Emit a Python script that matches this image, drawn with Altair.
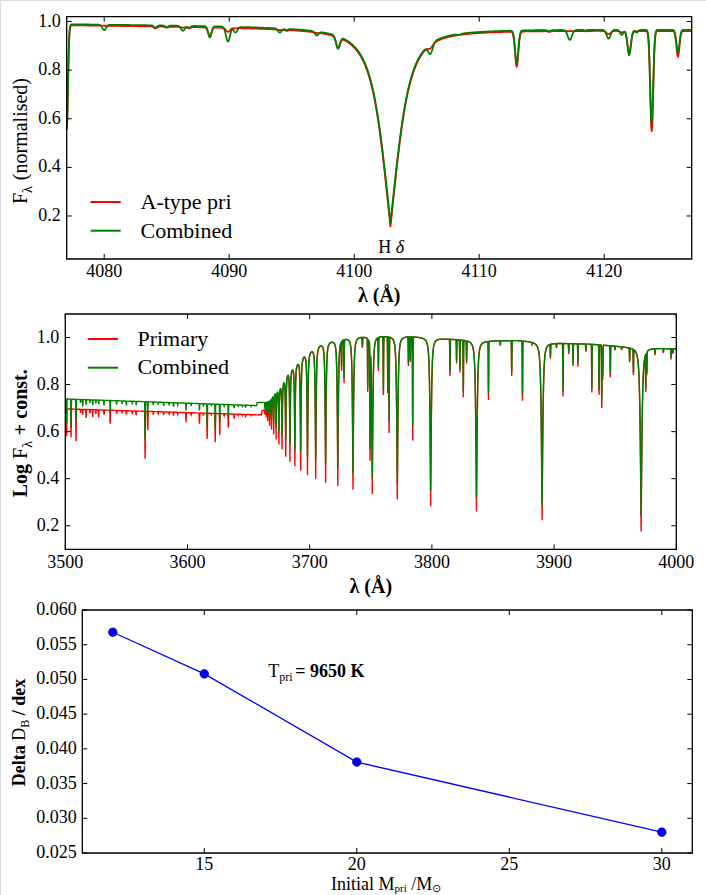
import numpy as np
import pandas as pd
import altair as alt

FONT = "Liberation Serif"
RED = "#ff0000"
GREEN = "#008000"
BLUE = "#0000ff"

# ---------------------------------------------------------------- panel 1: H-delta
HD_XDOM = [4077.0, 4127.0]
HD_YDOM = [0.023, 1.02]
HD_XTICKS = [4080, 4090, 4100, 4110, 4120]
HD_YTICKS = [0.2, 0.4, 0.6, 0.8, 1.0]

# continuum knots (A-type primary / combined)
hd_cont_wl = [4077.0, 4090.0, 4100.0, 4110.0, 4127.0]
hd_cont_pri = [0.986, 0.978, 0.972, 0.966, 0.962]
hd_cont_comb = [0.990, 0.983, 0.976, 0.970, 0.967]

# H delta core: centre and line-centre flux
hdelta_wl = 4102.9
hdelta_min_pri = 0.155
hdelta_min_comb = 0.170

# metal lines: centre, line-centre flux (pri, comb), gaussian sigma
hd_lines_wl = [4077.0, 4080.0, 4084.1, 4085.0, 4086.3, 4086.8, 4088.45, 4089.9,
               4090.5, 4094.05, 4094.6, 4097.0, 4098.7, 4106.1, 4108.4, 4113.0,
               4115.6, 4117.25, 4118.5, 4120.35, 4121.4, 4122.0, 4122.6, 4123.8,
               4125.9]
hd_lines_pri = [0.560, 0.983, 0.972, 0.975, 0.975, 0.972, 0.940, 0.958,
                0.972, 0.965, 0.962, 0.953, 0.893, 0.890, 0.948, 0.815,
                0.958, 0.963, 0.960, 0.948, 0.955, 0.873, 0.960, 0.547,
                0.856]
hd_lines_comb = [0.555, 0.965, 0.975, 0.977, 0.962, 0.975, 0.935, 0.918,
                 0.955, 0.955, 0.965, 0.943, 0.888, 0.867, 0.945, 0.830,
                 0.960, 0.925, 0.963, 0.930, 0.945, 0.862, 0.955, 0.583,
                 0.872]
hd_lines_sigma = [0.10, 0.15, 0.12, 0.12, 0.15, 0.12, 0.13, 0.16,
                  0.15, 0.15, 0.12, 0.15, 0.15, 0.18, 0.15, 0.13,
                  0.12, 0.17, 0.10, 0.16, 0.13, 0.14, 0.12, 0.12,
                  0.12]

# ---------------------------------------------------------------- panel 2: Balmer jump
BJ_XDOM = [3500, 4000]
BJ_YDOM = [0.1, 1.1]
BJ_XTICKS = [3500, 3600, 3700, 3800, 3900, 4000]
BJ_YTICKS = [0.2, 0.4, 0.6, 0.8, 1.0]

# upper envelope of log flux
bj_env_wl = [3500.0, 3656.5, 3657.0, 3660.5, 3661.0, 3663.0, 3666.0, 3667.5,
             3671.6, 3675.1, 3678.4, 3681.7, 3685.3, 3690.7, 3695.3, 3701.6,
             3708.4, 3717.4, 3728.9, 3741.2, 3757.5, 3782.0, 3809.3, 3840.0,
             3870.0, 3900.0, 3930.0, 3960.0, 4000.0]
bj_env_pri = [0.697, 0.672, 0.672, 0.673, 0.690, 0.695, 0.730, 0.740,
              0.775, 0.790, 0.820, 0.855, 0.876, 0.904, 0.932, 0.953,
              0.975, 0.989, 0.999, 1.006, 1.008, 1.006, 0.996, 0.986,
              0.988, 0.977, 0.972, 0.960, 0.952]
bj_env_comb = [0.739, 0.711, 0.724, 0.725, 0.725, 0.727, 0.737, 0.742,
               0.775, 0.790, 0.820, 0.855, 0.876, 0.904, 0.932, 0.953,
               0.975, 0.989, 0.999, 1.006, 1.008, 1.006, 0.996, 0.986,
               0.988, 0.977, 0.972, 0.960, 0.952]

# Balmer series H-epsilon ... H30: centre, line-centre value, width scale
balmer_wl = [3971.20, 3890.16, 3836.47, 3798.98, 3771.70, 3751.22, 3735.43, 3723.00,
             3713.03, 3704.91, 3698.20, 3692.61, 3687.88, 3683.86, 3680.40, 3677.41,
             3674.81, 3672.53, 3670.52, 3668.73, 3667.15, 3665.73, 3664.46, 3663.31]
balmer_min_pri = [0.176, 0.224, 0.261, 0.284, 0.313, 0.337, 0.355, 0.372,
                  0.386, 0.404, 0.421, 0.440, 0.459, 0.479, 0.500, 0.531,
                  0.552, 0.573, 0.594, 0.615, 0.630, 0.650, 0.665, 0.675]
balmer_min_comb = [0.242, 0.287, 0.320, 0.348, 0.380, 0.404, 0.425, 0.450,
                   0.468, 0.485, 0.500, 0.517, 0.531, 0.552, 0.566, 0.587,
                   0.608, 0.620, 0.640, 0.655, 0.665, 0.680, 0.690, 0.700]
balmer_scale = [0.80, 0.72, 0.66, 0.62, 0.58, 0.55, 0.52, 0.48,
                0.45, 0.42, 0.39, 0.36, 0.33, 0.31, 0.29, 0.27,
                0.25, 0.23, 0.21, 0.20, 0.19, 0.18, 0.17, 0.16]

# metal lines: centre, line-centre value (pri, comb)
bj_lines_wl = [3501.1, 3504.7, 3508.8, 3512.5, 3514.3, 3517.0, 3520.2, 3522.4,
               3525.0, 3527.3, 3531.7, 3536.7, 3542.0, 3546.5, 3550.0, 3554.8,
               3558.0, 3565.3, 3567.5, 3572.0, 3576.0, 3580.5, 3585.0, 3588.5,
               3592.0, 3598.8, 3603.0, 3609.8, 3613.0, 3616.1, 3619.5, 3622.7,
               3626.4, 3630.0, 3633.4, 3638.2, 3641.5, 3645.0, 3647.5, 3652.0,
               3726.1, 3728.1, 3743.1, 3747.5, 3749.4, 3756.2, 3760.3, 3763.9,
               3765.0, 3780.8, 3782.4, 3784.3, 3814.8, 3820.2, 3822.9, 3825.7,
               3828.4, 3846.3, 3856.0, 3865.3, 3874.1, 3882.0, 3897.0, 3902.0,
               3907.3, 3912.0, 3915.5, 3919.5, 3926.0, 3930.9, 3936.8, 3939.0,
               3939.8, 3946.0, 3949.8, 3955.3, 3961.8, 3964.9, 3975.0, 3975.9,
               3982.6, 3989.4, 3995.7, 3997.2]
bj_lines_pri = [0.580, 0.576, 0.559, 0.680, 0.672, 0.658, 0.678, 0.662,
                0.675, 0.660, 0.672, 0.634, 0.675, 0.678, 0.672, 0.675,
                0.670, 0.485, 0.606, 0.672, 0.676, 0.670, 0.675, 0.668,
                0.673, 0.640, 0.672, 0.634, 0.668, 0.569, 0.672, 0.555,
                0.587, 0.668, 0.618, 0.655, 0.668, 0.668, 0.662, 0.668,
                0.858, 0.806, 0.956, 0.770, 0.475, 0.858, 0.756, 0.763,
                0.594, 0.879, 0.897, 0.562, 0.837, 0.890, 0.851, 0.746,
                0.890, 0.735, 0.965, 0.837, 0.731, 0.970, 0.910, 0.955,
                0.749, 0.930, 0.879, 0.876, 0.940, 0.766, 0.756, 0.700,
                0.820, 0.831, 0.945, 0.946, 0.895, 0.840, 0.768, 0.840,
                0.925, 0.935, 0.907, 0.930]
bj_lines_comb = [0.637, 0.616, 0.643, 0.722, 0.707, 0.714, 0.722, 0.713,
                 0.720, 0.717, 0.712, 0.686, 0.715, 0.718, 0.712, 0.716,
                 0.713, 0.570, 0.665, 0.713, 0.715, 0.710, 0.712, 0.706,
                 0.713, 0.690, 0.713, 0.690, 0.708, 0.620, 0.712, 0.610,
                 0.640, 0.708, 0.665, 0.700, 0.708, 0.707, 0.702, 0.707,
                 0.876, 0.827, 0.962, 0.790, 0.524, 0.872, 0.777, 0.785,
                 0.644, 0.890, 0.906, 0.623, 0.855, 0.900, 0.865, 0.772,
                 0.900, 0.760, 0.968, 0.855, 0.757, 0.972, 0.920, 0.960,
                 0.770, 0.940, 0.890, 0.890, 0.945, 0.785, 0.775, 0.730,
                 0.835, 0.845, 0.950, 0.950, 0.900, 0.850, 0.785, 0.850,
                 0.930, 0.938, 0.915, 0.935]
BJ_SIGMA = 0.15

# ---------------------------------------------------------------- panel 3: Delta D_B
DB_XDOM = [11, 31]
DB_YDOM = [0.025, 0.060]
DB_XTICKS = [15, 20, 25, 30]
DB_YTICKS = [0.025, 0.030, 0.035, 0.040, 0.045, 0.050, 0.055, 0.060]
mass_pri = [12, 15, 20, 30]
delta_db = [0.0568, 0.0508, 0.0381, 0.0280]


# ---------------------------------------------------------------- line profiles
def hshape(d):
    d = np.abs(d)
    return 0.5 * np.exp(-d / 0.8) + 0.5 / (1.0 + (d / 1.3) ** 2)


def gauss(d, s):
    return np.exp(-0.5 * (d / s) ** 2)


def add_metals(grid, base, centres, mins, sigmas):
    out = base.copy()
    for c, m, s in zip(centres, mins, sigmas):
        depth = max(float(np.interp(c, grid, base)) - m, 0.0)
        out -= depth * gauss(grid - c, s)
    return out


grid1 = np.round(np.arange(HD_XDOM[0], HD_XDOM[1] + 1e-6, 0.02), 3)


def hd_spectrum(cont_vals, hmin, line_mins):
    cont = np.interp(grid1, hd_cont_wl, cont_vals)
    depth = float(np.interp(hdelta_wl, hd_cont_wl, cont_vals)) - hmin
    base = cont - depth * hshape(grid1 - hdelta_wl)
    return add_metals(grid1, base, hd_lines_wl, line_mins, hd_lines_sigma)


grid2 = np.unique(np.round(np.concatenate([
    np.arange(BJ_XDOM[0], BJ_XDOM[1] + 1e-6, 0.1), balmer_wl, bj_lines_wl]), 3))


def bj_spectrum(env_vals, balmer_mins, line_mins):
    env = np.interp(grid2, bj_env_wl, env_vals)
    base = env.copy()
    for c, m, s in zip(balmer_wl, balmer_mins, balmer_scale):
        depth = float(np.interp(c, bj_env_wl, env_vals)) - m
        base -= depth * hshape((grid2 - c) / s)
    return add_metals(grid2, base, bj_lines_wl, line_mins, [BJ_SIGMA] * len(bj_lines_wl))


def frame(wl, flux):
    return pd.DataFrame({"x": np.round(wl, 3), "y": np.round(flux, 4)})


hd_pri = frame(grid1, hd_spectrum(hd_cont_pri, hdelta_min_pri, hd_lines_pri))
hd_comb = frame(grid1, hd_spectrum(hd_cont_comb, hdelta_min_comb, hd_lines_comb))
bj_pri = frame(grid2, bj_spectrum(bj_env_pri, balmer_min_pri, bj_lines_pri))
bj_comb = frame(grid2, bj_spectrum(bj_env_comb, balmer_min_comb, bj_lines_comb))
db = pd.DataFrame({"x": mass_pri, "y": delta_db})

# ---------------------------------------------------------------- page geometry
# each panel: plot rectangle on the page (pixels) and its data window
P1 = dict(x0=66.7, x1=691.7, y0=16.7, y1=259.0, xdom=HD_XDOM, ydom=HD_YDOM,
          xticks=HD_XTICKS, yticks=HD_YTICKS, xfmt="d", yfmt=".1f", xlab_y=272.0, ylab_x=60.7)
P2 = dict(x0=65.3, x1=676.3, y0=314.0, y1=549.3, xdom=BJ_XDOM, ydom=BJ_YDOM,
          xticks=BJ_XTICKS, yticks=BJ_YTICKS, xfmt="d", yfmt=".1f", xlab_y=563.0, ylab_x=59.3)
P3 = dict(x0=82.3, x1=692.3, y0=610.0, y1=853.0, xdom=DB_XDOM, ydom=DB_YDOM,
          xticks=DB_XTICKS, yticks=DB_YTICKS, xfmt="d", yfmt=".3f", xlab_y=864.5, ylab_x=76.7)


def X(p):
    return alt.X("x:Q", axis=None, scale=alt.Scale(
        domain=p["xdom"], range=[p["x0"], p["x1"]], nice=False, zero=False))


def Y(p):
    return alt.Y("y:Q", axis=None, scale=alt.Scale(
        domain=p["ydom"], range=[p["y1"], p["y0"]], nice=False, zero=False))


# ---------------------------------------------------------------- text helpers
REG = {' ': .25, '(': .333, ')': .333, '+': .564, '.': .25, '/': .278, '=': .564,
       'A': .722, 'B': .667, 'C': .667, 'D': .722, 'F': .556, 'H': .722, 'I': .333,
       'K': .722, 'L': .611, 'M': .889, 'P': .556, 'T': .611, 'a': .444, 'b': .5,
       'c': .444, 'd': .5, 'e': .444, 'g': .5, 'i': .278, 'l': .278, 'm': .778,
       'n': .5, 'o': .5, 'p': .5, 'r': .333, 's': .389, 't': .278, 'x': .5, 'y': .5,
       '-': .333, 'λ': .55, 'δ': .5, '⊙': .8, 'Å': .722}
BOLD = {' ': .25, '(': .333, ')': .333, '+': .57, '.': .25, '/': .278, '=': .57,
        'D': .722, 'K': .778, 'L': .667, 'a': .5, 'c': .444, 'd': .556, 'e': .444,
        'g': .5, 'l': .278, 'n': .556, 'o': .5, 's': .389, 't': .333, 'x': .5,
        'λ': .55, 'Å': .722}


def text_width(s, size, bold=False):
    table = BOLD if bold else REG
    return sum(table.get(ch, 0.5) for ch in s) * size


ONE = pd.DataFrame({"k": [0]})


def piece(text, x, y, size, bold=False, italic=False, angle=0,
          align="left", baseline="alphabetic"):
    return alt.Chart(ONE).mark_text(
        text=text, font=FONT, fontSize=size, color="black",
        fontWeight="bold" if bold else "normal",
        fontStyle="italic" if italic else "normal",
        angle=angle, align=align, baseline=baseline,
    ).encode(x=alt.value(x), y=alt.value(y))


def run_h(pieces, x, y):
    out = []
    for text, size, bold, shift in pieces:
        lead = len(text) - len(text.lstrip())
        out.append(piece(text.strip(), x + text_width(text[:lead], size, bold),
                         y + shift, size, bold))
        x += text_width(text, size, bold)
    return out


def run_v(pieces, x, y):
    out = []
    for text, size, bold, shift in pieces:
        lead = len(text) - len(text.lstrip())
        out.append(piece(text.strip(), x + shift,
                         y - text_width(text[:lead], size, bold), size, bold, angle=270))
        y -= text_width(text, size, bold)
    return out


def decorations(p):
    """Frame, inward ticks on all four sides and tick labels of one panel."""
    tx = pd.DataFrame({"x": p["xticks"]})
    ty = pd.DataFrame({"y": p["yticks"]})
    rule = dict(color="black", strokeWidth=1)
    L = 5
    lab = dict(font=FONT, fontSize=18, color="black", baseline="middle")
    return [
        alt.Chart(tx).mark_rule(**rule).encode(x=X(p), y=alt.value(p["y1"]), y2=alt.value(p["y1"] - L)),
        alt.Chart(tx).mark_rule(**rule).encode(x=X(p), y=alt.value(p["y0"]), y2=alt.value(p["y0"] + L)),
        alt.Chart(ty).mark_rule(**rule).encode(y=Y(p), x=alt.value(p["x0"]), x2=alt.value(p["x0"] + L)),
        alt.Chart(ty).mark_rule(**rule).encode(y=Y(p), x=alt.value(p["x1"] - L), x2=alt.value(p["x1"])),
        alt.Chart(tx).mark_text(align="center", **lab).encode(
            x=X(p), y=alt.value(p["xlab_y"]), text=alt.Text("x:Q", format=p["xfmt"])),
        alt.Chart(ty).mark_text(align="right", **lab).encode(
            y=Y(p), x=alt.value(p["ylab_x"]), text=alt.Text("y:Q", format=p["yfmt"])),
        alt.Chart(ONE).mark_rect(fillOpacity=0, stroke="black", strokeWidth=1.3).encode(
            x=alt.value(p["x0"]), x2=alt.value(p["x1"]), y=alt.value(p["y0"]), y2=alt.value(p["y1"])),
    ]


def spec_line(df, color, p, width):
    return alt.Chart(df).mark_line(color=color, strokeWidth=width).encode(x=X(p), y=Y(p))


def legend(entries, x0, x1, xt, size):
    out = []
    for color, label, ly, ty in entries:
        out.append(alt.Chart(ONE).mark_rule(color=color, strokeWidth=2).encode(
            x=alt.value(x0), x2=alt.value(x1), y=alt.value(ly)))
        out.append(piece(label, xt, ty, size))
    return out


# ---------------------------------------------------------------- panel 1
hd_label = pd.DataFrame({"x": [hdelta_wl + 0.1], "y": [0.048]})
panel1 = [
    spec_line(hd_pri, RED, P1, 1.8),
    spec_line(hd_comb, GREEN, P1, 1.8),
    alt.Chart(hd_label).mark_text(text="H", font=FONT, fontSize=18, align="right",
                                  baseline="alphabetic", dx=-0.5, color="black").encode(x=X(P1), y=Y(P1)),
    alt.Chart(hd_label).mark_text(text="δ", font=FONT, fontSize=18, fontStyle="italic",
                                  align="left", baseline="alphabetic", dx=4, color="black").encode(x=X(P1), y=Y(P1)),
    *legend([(RED, "A-type pri", 202.0, 208.6), (GREEN, "Combined", 230.7, 237.6)],
            90.6, 120.7, 140.5, 22),
    *run_v([("F", 20, False, 0), ("λ", 14, False, 5), (" (normalised)", 20, False, 0)],
           26.7, 204.0),
    piece("λ (Å)", (P1["x0"] + P1["x1"]) / 2, 296.0, 20, bold=True, align="center", baseline="middle"),
    *decorations(P1),
]

# ---------------------------------------------------------------- panel 2
panel2 = [
    spec_line(bj_pri, RED, P2, 1.4),
    spec_line(bj_comb, GREEN, P2, 1.4),
    *legend([(RED, "Primary", 339.0, 346.0), (GREEN, "Combined", 367.7, 374.3)],
            87.8, 118.0, 137.4, 22),
    *run_v([("Log ", 20, True, 0), ("F", 20, False, 0), ("λ", 14, False, 5),
            (" + const.", 20, True, 0)], 27.0, 497.3),
    piece("λ (Å)", (P2["x0"] + P2["x1"]) / 2, 586.7, 20, bold=True, align="center", baseline="middle"),
    *decorations(P2),
]

# ---------------------------------------------------------------- panel 3
t_label = pd.DataFrame({"x": [17.1], "y": [0.0503]})


def t_piece(text, dx, dy, size, bold):
    return alt.Chart(t_label).mark_text(
        text=text, font=FONT, fontSize=size, color="black", align="left",
        baseline="alphabetic", dx=dx, dy=dy, fontWeight="bold" if bold else "normal",
    ).encode(x=X(P3), y=Y(P3))


panel3 = [
    alt.Chart(db).mark_line(color=BLUE, strokeWidth=1.3).encode(x=X(P3), y=Y(P3)),
    alt.Chart(db).mark_circle(size=75, color=BLUE, opacity=1, stroke="#000040",
                              strokeWidth=0.6).encode(x=X(P3), y=Y(P3)),
    t_piece("T", 0, 0, 18, False),
    t_piece("pri", 11, 4, 12, False),
    t_piece("= 9650 K", 27, 0, 18, True),
    *run_v([("Delta ", 18, True, 0), ("D", 18, False, 0), ("B", 12, False, 4),
            (" / dex", 18, True, 0)], 25.0, 786.3),
    *run_h([("Initial ", 18, False, 0), ("M", 18, False, 0), ("pri", 11, False, 2),
            (" /M", 18, False, 0), ("⊙", 11, False, 2)], 331.0, 890.0),
    *decorations(P3),
]

chart = alt.layer(*panel1, *panel2, *panel3).resolve_scale(
    x="independent", y="independent"
).properties(
    width=706, height=895, padding=0,
    autosize=alt.AutoSizeParams(type="none"),
).configure_view(stroke=None).configure(background="white")

chart.save("out.html", embed_options={"renderer": "svg", "actions": False})
